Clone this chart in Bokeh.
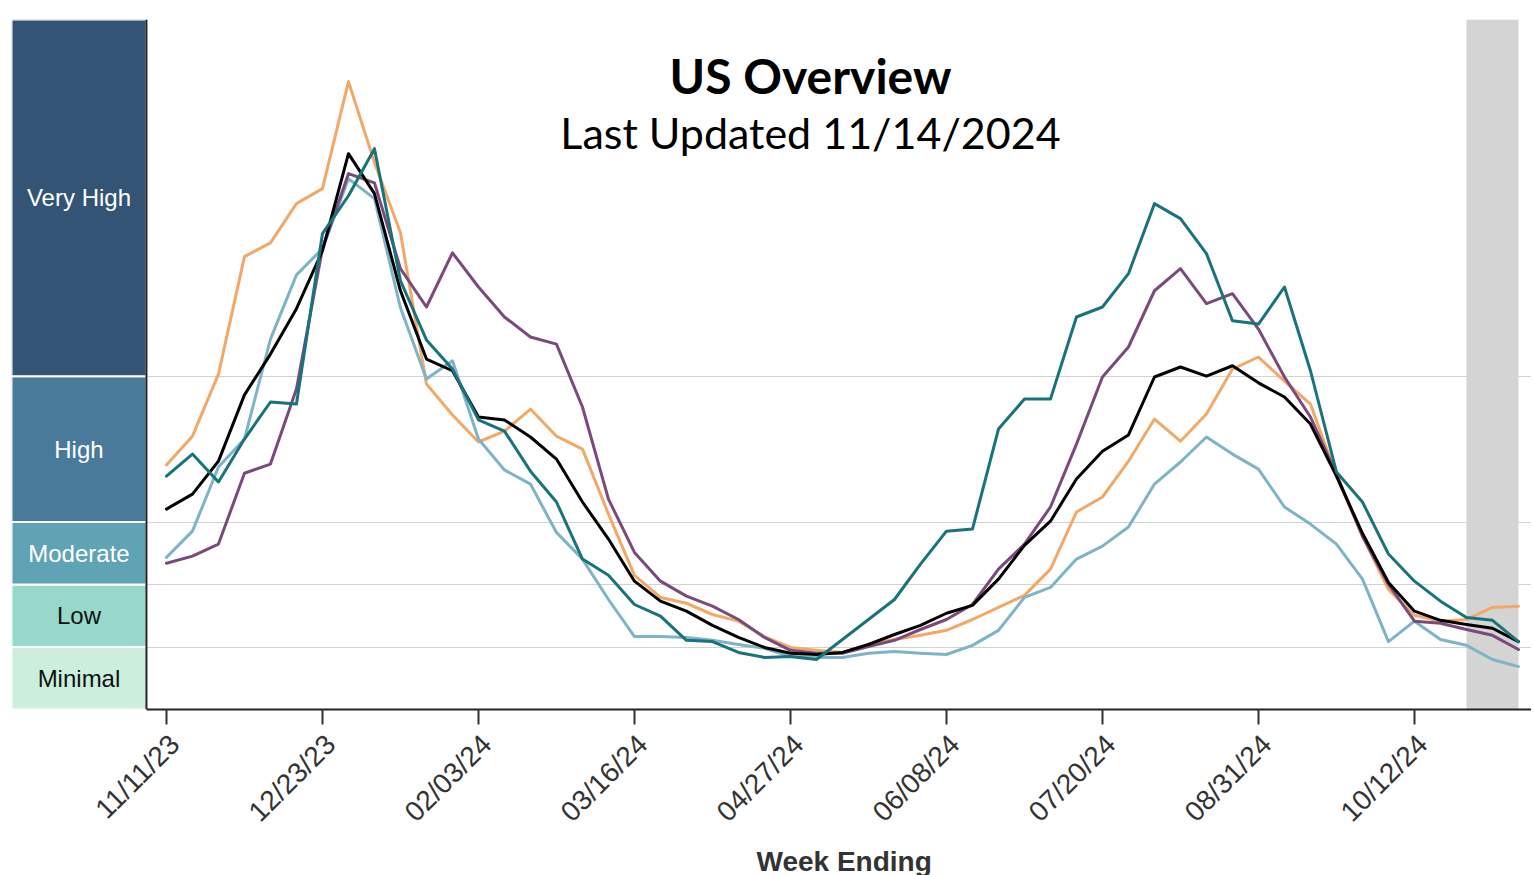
import numpy as np
import pandas as pd
from bokeh.plotting import figure
from bokeh.models import (Range1d, FixedTicker, Label, Span, ColumnDataSource, LabelSet,
                          DatetimeAxis, DatetimeTickFormatter, Grid, Title)
from bokeh.core.properties import value
from bokeh.embed import file_html
from bokeh.resources import INLINE

# ---------------- data ----------------
first_week = "2023-11-11"
tick_labels = ["11/11/23", "12/23/23", "02/03/24", "03/16/24", "04/27/24",
               "06/08/24", "07/20/24", "08/31/24", "10/12/24"]
levels = ["Minimal", "Low", "Moderate", "High", "Very High"]
level_bounds = [0, 1.5, 3, 4.5, 8, 16.56]
level_colors = ["#cbefdc", "#97d8cb", "#60a3b4", "#4a7a99", "#345476"]
level_text_colors = ["#111111", "#111111", "#ffffff", "#ffffff", "#ffffff"]

national = [4.81, 5.17, 5.96, 7.55, 8.53, 9.62, 11.01, 13.34, 12.38, 10.05, 8.41, 8.13, 7.02,
            6.95, 6.54, 6.01, 4.98, 4.09, 3.08, 2.60, 2.36, 2.02, 1.73, 1.49, 1.35, 1.32, 1.37,
            1.56, 1.80, 2.02, 2.31, 2.50, 3.13, 3.94, 4.52, 5.53, 6.20, 6.59, 7.98, 8.22, 8.00,
            8.25, 7.84, 7.50, 6.85, 5.60, 4.23, 3.05, 2.36, 2.14, 2.04, 1.95, 1.63]
orange_region = [5.87, 6.56, 8.05, 10.87, 11.20, 12.14, 12.50, 15.07, 13.13, 11.44, 7.81, 7.07, 6.42,
                 6.68, 7.21, 6.56, 6.25, 4.69, 3.22, 2.69, 2.55, 2.28, 2.12, 1.75, 1.49, 1.42, 1.37,
                 1.56, 1.68, 1.78, 1.90, 2.16, 2.45, 2.74, 3.37, 4.74, 5.10, 5.96, 6.97, 6.44, 7.09,
                 8.17, 8.46, 7.88, 7.33, 5.60, 4.16, 2.88, 2.26, 2.12, 2.16, 2.45, 2.48]
teal_region = [5.60, 6.13, 5.46, 6.49, 7.38, 7.33, 11.42, 12.33, 13.46, 10.29, 8.87, 8.17, 6.95,
               6.68, 5.72, 4.98, 3.61, 3.22, 2.52, 2.24, 1.66, 1.63, 1.37, 1.25, 1.27, 1.20, 1.68,
               2.16, 2.64, 3.49, 4.28, 4.33, 6.73, 7.45, 7.45, 9.42, 9.66, 10.46, 12.14, 11.78, 10.94,
               9.33, 9.25, 10.14, 8.13, 5.70, 4.98, 3.73, 3.08, 2.60, 2.21, 2.14, 1.63]
lightblue_region = [3.65, 4.28, 5.82, 6.49, 8.89, 10.43, 11.06, 12.74, 12.26, 9.64, 7.93, 8.37, 6.49,
                    5.75, 5.41, 4.25, 3.61, 2.64, 1.75, 1.75, 1.73, 1.66, 1.56, 1.47, 1.27, 1.25, 1.25,
                    1.35, 1.39, 1.35, 1.32, 1.54, 1.90, 2.69, 2.93, 3.61, 3.92, 4.38, 5.41, 5.94, 6.54,
                    6.13, 5.77, 4.86, 4.45, 3.97, 3.13, 1.63, 2.12, 1.68, 1.54, 1.20, 1.03]
purple_region = [3.51, 3.68, 3.97, 5.67, 5.89, 7.69, 11.06, 12.86, 12.64, 10.58, 9.66, 10.96, 10.14,
                 9.42, 8.94, 8.77, 7.26, 5.05, 3.77, 3.08, 2.72, 2.48, 2.16, 1.73, 1.42, 1.35, 1.35,
                 1.51, 1.66, 1.92, 2.16, 2.52, 3.37, 3.97, 4.86, 6.37, 7.98, 8.70, 10.05, 10.58, 9.74,
                 9.98, 9.13, 7.98, 7.02, 5.65, 4.16, 3.00, 2.12, 2.07, 1.92, 1.78, 1.44]

series = [
    (orange_region, "#f3a868"),
    (lightblue_region, "#7fb3c7"),
    (purple_region, "#7b4a7d"),
    (national, "#000000"),
    (teal_region, "#18737a"),
]

n_weeks = len(national)
weeks = pd.date_range(first_week, periods=n_weeks, freq="7D")
WEEK_MS = 7 * 24 * 3600 * 1000.0


def ms(ts):
    return (pd.Timestamp(ts) - pd.Timestamp("1970-01-01")).total_seconds() * 1000.0


week_ms = [ms(w) for w in weeks]
tick_ms = [ms(pd.to_datetime(t, format="%m/%d/%y")) for t in tick_labels]


def at_week(w):
    """position (ms) that lies w weeks after the first week-ending date"""
    return week_ms[0] + w * WEEK_MS


# ---------------- layout constants ----------------
FONT = "Liberation Sans"
FRAME_H = 690
FRAME_W = 1520
PX_PER_WEEK = 26.0
LEFT_EDGE_W = -5.96        # frame left edge, in weeks from the first date
AXIS_W = -0.77             # position of the vertical axis line, in weeks
LABEL_SHIFT_W = -0.31      # tick labels end just right of their tick

xr = Range1d(at_week(LEFT_EDGE_W), at_week(LEFT_EDGE_W + FRAME_W / PX_PER_WEEK))
yr = Range1d(level_bounds[0], level_bounds[-1])

p = figure(frame_width=FRAME_W, frame_height=FRAME_H, x_range=xr, y_range=yr,
           output_backend="svg", toolbar_location=None,
           min_border_top=19, min_border_bottom=0, min_border_left=11, min_border_right=0)
p.outline_line_color = None
p.background_fill_color = "white"
p.border_fill_color = "white"

# grid at the level thresholds and a light top rule
p.xgrid.visible = False
p.ygrid.ticker = FixedTicker(ticks=level_bounds[1:-1])
p.ygrid.grid_line_color = "#d2d2d2"
p.ygrid.grid_line_width = 1
p.add_layout(Grid(dimension=1, ticker=FixedTicker(ticks=[level_bounds[-1]]),
                  grid_line_color="#d6d6d6", grid_line_width=3))

# level bands on the left
band_src = ColumnDataSource(dict(
    bottom=level_bounds[:-1], top=level_bounds[1:],
    mid=[(a + b) / 2 for a, b in zip(level_bounds[:-1], level_bounds[1:])],
    color=level_colors, tcolor=level_text_colors, name=levels,
    x=[at_week((LEFT_EDGE_W + AXIS_W) / 2)] * len(levels)))
p.quad(left=xr.start, right=at_week(AXIS_W), bottom="bottom", top="top", fill_color="color",
       line_color="white", line_width=2, source=band_src)
p.add_layout(LabelSet(x="x", y="mid", text="name", source=band_src,
                      text_color="tcolor", text_font=value(FONT),
                      text_font_size="24px", text_align="center",
                      text_baseline="middle"))

# incomplete-data shading over the last two weeks
p.quad(left=[week_ms[-3]], right=[week_ms[-1]], bottom=[level_bounds[0]],
       top=[level_bounds[-1]], fill_color="#d4d4d4", line_color=None)

for vals, col in series:
    p.line(week_ms, vals, line_color=col, line_width=3, line_join="round", line_cap="round")

# vertical axis line
p.add_layout(Span(location=at_week(AXIS_W), dimension="height",
                  line_color="#222222", line_width=2))
p.yaxis.visible = False

# x axis 1: axis line + tick marks
ax = p.xaxis[0]
ax.ticker = FixedTicker(ticks=tick_ms)
ax.bounds = (at_week(AXIS_W), xr.end)
ax.major_label_text_font_size = "1px"
ax.major_label_text_color = None
ax.major_label_standoff = 0
ax.major_tick_out = 15
ax.major_tick_in = 0
ax.minor_tick_out = 0
ax.minor_tick_in = 0
ax.major_tick_line_width = 2
ax.major_tick_line_color = "#333333"
ax.axis_line_width = 2
ax.axis_line_color = "#222222"

# x axis 2: rotated date labels
p.extra_x_ranges = {"labels": Range1d(xr.start + LABEL_SHIFT_W * WEEK_MS,
                                      xr.end + LABEL_SHIFT_W * WEEK_MS)}
fmt = "%m/%d/%y"
lab_axis = DatetimeAxis(
    x_range_name="labels",
    ticker=FixedTicker(ticks=tick_ms),
    formatter=DatetimeTickFormatter(days=fmt, months=fmt, years=fmt, hours=fmt,
                                    minutes=fmt, seconds=fmt, milliseconds=fmt,
                                    microseconds=fmt, minsec=fmt, hourmin=fmt),
    axis_line_color=None, major_tick_out=0, major_tick_in=0,
    minor_tick_out=0, minor_tick_in=0,
    major_label_orientation=np.pi / 4, major_label_standoff=15,
    major_label_text_font=FONT, major_label_text_font_size="28px",
    major_label_text_color="#333333")
p.add_layout(lab_axis, "below")

# axis title, placed right of the frame centre as in the original
p.add_layout(Title(text="Week Ending", align="left", offset=745, standoff=4,
                   text_font=FONT, text_font_size="28px", text_font_style="bold",
                   text_color="#333333"), "below")

title_x = at_week(24.77)
p.add_layout(Label(x=title_x, y=15.22, text="US Overview", text_font="Lato",
                   text_font_style="bold", text_font_size="48px", text_align="center",
                   text_baseline="alphabetic", text_color="#000000"))
p.add_layout(Label(x=title_x, y=13.85, text="Last Updated 11/14/2024", text_font="Lato",
                   text_font_size="43px", text_align="center",
                   text_baseline="alphabetic", text_color="#000000"))

open("out.html", "w").write(file_html(p, INLINE))
